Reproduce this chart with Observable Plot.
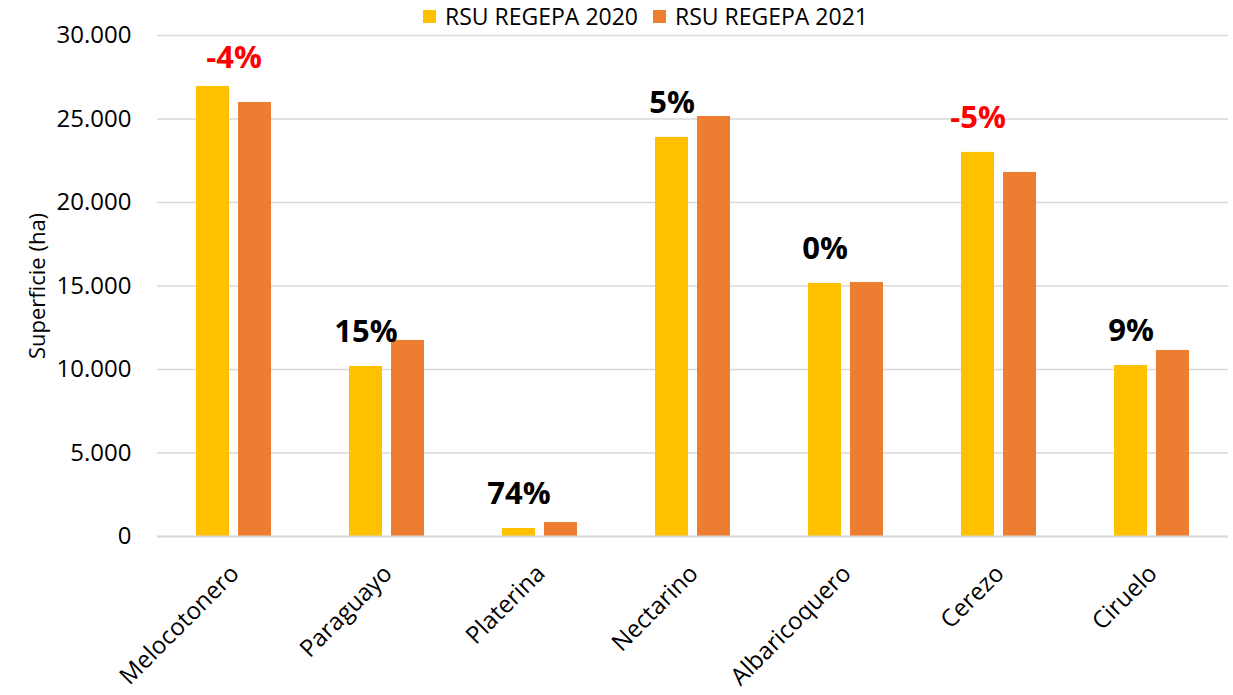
<!DOCTYPE html>
<html>
<head>
<meta charset="utf-8">
<script src="https://cdn.jsdelivr.net/npm/d3@7"></script>
<script src="https://cdn.jsdelivr.net/npm/@observablehq/plot@0.6"></script>
<style>
  body { margin: 0; background: white; font-family: "Open Sans", Lato, sans-serif; }
  #wrap { position: relative; width: 1233px; height: 695px; }
  #legend { position: absolute; top: 0px; left: 423px; display: flex; align-items: center; font-size: 23px; color: #000; white-space: nowrap; }
  #legend .sw { width: 13px; height: 13px; display: inline-block; margin-right: 9px; }
  #legend .item { display: flex; align-items: center; margin-right: 15px; }
</style>
</head>
<body>
<div id="wrap">
  <div id="chart"></div>
  <div id="legend"></div>
</div>
<script>
const categories = ["Melocotonero", "Paraguayo", "Platerina", "Nectarino", "Albaricoquero", "Cerezo", "Ciruelo"];
const series = ["RSU REGEPA 2020", "RSU REGEPA 2021"];
const values2020 = [26950, 10180, 480, 23900, 15150, 23000, 10240];
const values2021 = [25990, 11740, 835, 25150, 15210, 21800, 11140];
const changeLabels = ["-4%", "15%", "74%", "5%", "0%", "-5%", "9%"];
const yTicks = [0, 5000, 10000, 15000, 20000, 25000, 30000];
const seriesColors = ["#FFC000", "#ED7D31"];

const rows = categories.flatMap((c, i) => [
  {cat: c, year: series[0], value: values2020[i]},
  {cat: c, year: series[1], value: values2021[i]}
]);
const labels = categories.map((c, i) => ({cat: c, value: values2020[i], text: changeLabels[i]}));
const isNeg = d => d.text.startsWith("-");
const first = d => d.cat === categories[0];

const fmt = d => d === 0 ? "0" : d3.format(",")(d).replace(/,/g, ".");

const chart = Plot.plot({
  width: 1233,
  height: 695,
  marginLeft: 154,
  marginRight: 3,
  marginTop: 35,
  marginBottom: 159,
  style: {fontFamily: "'Open Sans', Lato, sans-serif", fontSize: "22px", color: "#000", background: "white"},
  fx: {domain: categories, padding: 0, label: null},
  x: {domain: series, paddingInner: 0.209, paddingOuter: 0.892, axis: null},
  y: {domain: [0, 30000]},
  color: {domain: series, range: seriesColors},
  marks: [
    Plot.gridY({ticks: yTicks, stroke: "#d9d9d9", strokeOpacity: 1, strokeWidth: 1.5}),
    Plot.axisY({ticks: yTicks, tickSize: 0, tickPadding: 26, tickFormat: fmt, fontSize: 24,
      label: "Superficie (ha)", labelAnchor: "center", labelOffset: 128, labelArrow: "none"}),
    Plot.axisFx({tickRotate: -45, tickSize: 0, tickPadding: 33, dx: 1, fontSize: 24, label: null, anchor: "bottom"}),
    Plot.barY(rows, {fx: "cat", x: "year", y: "value", fill: "year"}),
    Plot.ruleY([0], {stroke: "#d9d9d9", strokeWidth: 2}),
    Plot.text(labels.filter(d => !first(d)), {fx: "cat", x: () => series[0], y: "value", text: "text",
      fill: d => isNeg(d) ? "#FF0000" : "#000000", dy: -34, fontSize: 31, fontWeight: "bold"}),
    Plot.text(labels.filter(first), {fx: "cat", y: "value", text: "text",
      fill: d => isNeg(d) ? "#FF0000" : "#000000", dy: -28, fontSize: 31, fontWeight: "bold"})
  ]
});
document.getElementById("chart").appendChild(chart);

// y axis title font size
chart.querySelectorAll("g[aria-label='y-axis label'] text").forEach(t => t.setAttribute("font-size", "22"));

const legend = document.getElementById("legend");
series.forEach((s, i) => {
  const item = document.createElement("div");
  item.className = "item";
  const sw = document.createElement("span");
  sw.className = "sw";
  sw.style.background = seriesColors[i];
  item.appendChild(sw);
  item.appendChild(document.createTextNode(s));
  legend.appendChild(item);
});
</script>
</body>
</html>
